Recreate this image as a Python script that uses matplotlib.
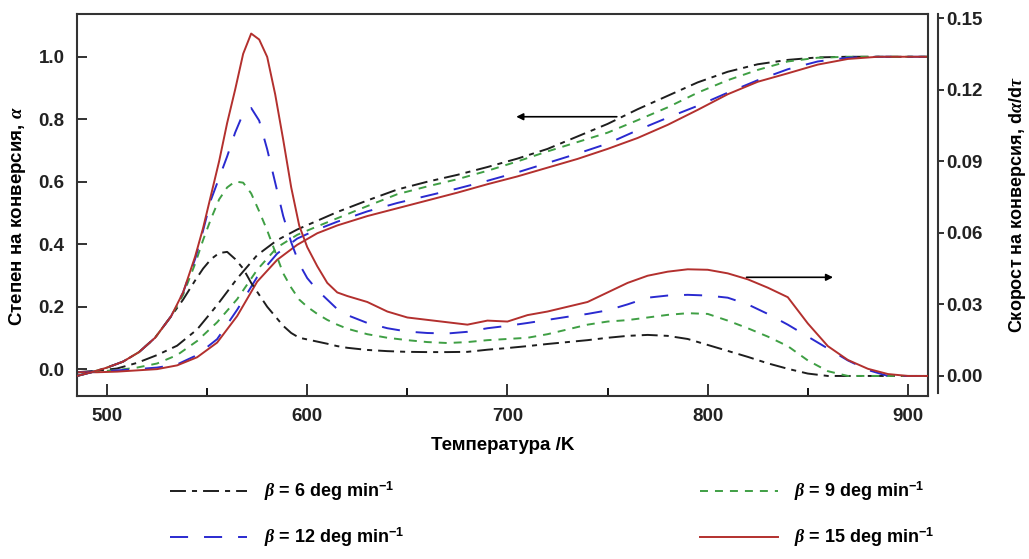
import matplotlib
matplotlib.use("Agg")
import matplotlib.pyplot as plt
from matplotlib.ticker import MultipleLocator, FormatStrFormatter

plt.rcParams['font.family'] = ['Liberation Sans', 'DejaVu Sans']
plt.rcParams['font.weight'] = 'bold'
plt.rcParams['axes.labelweight'] = 'bold'
plt.rcParams['mathtext.fontset'] = 'custom'
plt.rcParams['mathtext.rm'] = 'Liberation Sans:bold'
plt.rcParams['mathtext.bf'] = 'Liberation Sans:bold'
plt.rcParams['mathtext.it'] = 'Liberation Serif:italic'

# temperatura /K
T_conv = [485, 495, 505, 515, 525, 535, 545, 555, 565, 575, 585, 595, 605, 615, 630,
          645, 660, 675, 690, 705, 720, 735, 750, 765, 780, 795, 810, 825, 840, 855,
          870, 885, 900, 910]
T_rate = [485, 492, 500, 508, 516, 524, 532, 538, 544, 548, 552, 556, 560, 564, 568,
          572, 576, 580, 584, 588, 592, 596, 600, 605, 610, 615, 620, 630, 640, 650,
          660, 670, 680, 690, 700, 710, 720, 730, 740, 750, 760, 770, 780, 790, 800,
          810, 820, 830, 840, 850, 860, 870, 880, 890, 900, 910]

# stepen na konversia (alpha)
alpha_6 = [-0.01, -0.005, 0.002, 0.02, 0.045, 0.075, 0.127, 0.205, 0.29, 0.365, 0.413,
           0.447, 0.475, 0.503, 0.54, 0.575, 0.6, 0.622, 0.647, 0.674, 0.705, 0.745,
           0.785, 0.832, 0.875, 0.918, 0.952, 0.976, 0.99, 0.998, 1.0, 1.0, 1.0, 1.0]
alpha_9 = [-0.01, -0.008, -0.003, 0.005, 0.018, 0.045, 0.09, 0.15, 0.224, 0.318, 0.39,
           0.43, 0.457, 0.483, 0.522, 0.56, 0.585, 0.608, 0.635, 0.665, 0.697, 0.727,
           0.757, 0.797, 0.838, 0.885, 0.925, 0.958, 0.985, 0.997, 1.0, 1.0, 1.0, 1.0]
alpha_12 = [-0.01, -0.008, -0.004, 0.0, 0.005, 0.015, 0.045, 0.096, 0.19, 0.295, 0.37,
            0.418, 0.447, 0.472, 0.505, 0.532, 0.555, 0.578, 0.603, 0.63, 0.66, 0.69,
            0.722, 0.765, 0.805, 0.843, 0.885, 0.925, 0.96, 0.985, 0.997, 1.0, 1.0, 1.0]
alpha_15 = [-0.01, -0.01, -0.008, -0.004, 0.0, 0.012, 0.038, 0.085, 0.17, 0.28, 0.35,
            0.398, 0.435, 0.46, 0.49, 0.515, 0.54, 0.565, 0.592, 0.617, 0.645, 0.673,
            0.705, 0.74, 0.782, 0.83, 0.88, 0.92, 0.947, 0.975, 0.993, 1.0, 1.0, 1.0]

# skorost na konversia (dalpha/dtau)
rate_6 = [0.0, 0.0015, 0.0035, 0.006, 0.010, 0.016, 0.025, 0.032, 0.040, 0.045, 0.049,
          0.0515, 0.052, 0.049, 0.045, 0.039, 0.034, 0.029, 0.025, 0.021, 0.018, 0.016,
          0.0153, 0.0144, 0.0135, 0.0125, 0.0118, 0.0109, 0.0104, 0.0101, 0.010, 0.010,
          0.0101, 0.011, 0.0117, 0.0125, 0.0134, 0.0142, 0.015, 0.016, 0.0168, 0.0172,
          0.0168, 0.0155, 0.013, 0.0105, 0.008, 0.0053, 0.003, 0.001, 0.0, 0.0, 0.0,
          0.0, 0.0, 0.0]
rate_9 = [0.0, 0.0015, 0.0035, 0.006, 0.010, 0.016, 0.025, 0.034, 0.047, 0.057, 0.066,
          0.074, 0.079, 0.0815, 0.081, 0.0765, 0.069, 0.061, 0.052, 0.043, 0.037, 0.032,
          0.029, 0.026, 0.0235, 0.0215, 0.0198, 0.0175, 0.016, 0.015, 0.0142, 0.0138,
          0.0142, 0.015, 0.0155, 0.016, 0.0175, 0.0195, 0.0215, 0.0228, 0.0234, 0.0245,
          0.0256, 0.0263, 0.026, 0.0232, 0.020, 0.0165, 0.0125, 0.0065, 0.002, 0.0, 0.0,
          0.0, 0.0, 0.0]
rate_12 = [0.0, 0.0015, 0.0035, 0.006, 0.010, 0.016, 0.025, 0.035, 0.049, 0.061, 0.074,
           0.083, 0.092, 0.102, 0.110, 0.1123, 0.107, 0.095, 0.081, 0.067, 0.056, 0.047,
           0.041, 0.036, 0.032, 0.028, 0.0255, 0.0222, 0.020, 0.0186, 0.018, 0.0178,
           0.0185, 0.020, 0.021, 0.0222, 0.0235, 0.0248, 0.026, 0.0275, 0.030, 0.0328,
           0.0337, 0.034, 0.0337, 0.0328, 0.030, 0.026, 0.0215, 0.0165, 0.0115, 0.0065,
           0.0025, 0.0, 0.0, 0.0]
rate_15 = [0.0, 0.0015, 0.0035, 0.006, 0.010, 0.016, 0.025, 0.035, 0.050, 0.062, 0.076,
           0.090, 0.106, 0.120, 0.135, 0.1435, 0.141, 0.1337, 0.118, 0.099, 0.079, 0.063,
           0.054, 0.046, 0.039, 0.035, 0.0335, 0.031, 0.027, 0.0245, 0.0235, 0.0225,
           0.0215, 0.0232, 0.0228, 0.0255, 0.027, 0.029, 0.031, 0.035, 0.039, 0.042,
           0.0437, 0.0447, 0.0445, 0.043, 0.0405, 0.037, 0.033, 0.022, 0.0125, 0.0067,
           0.003, 0.0008, 0.0, 0.0]

labels = [r'$\mathit{\beta}$ = 6 deg min$^{-1}$',
          r'$\mathit{\beta}$ = 9 deg min$^{-1}$',
          r'$\mathit{\beta}$ = 12 deg min$^{-1}$',
          r'$\mathit{\beta}$ = 15 deg min$^{-1}$']
colors = ['#1e1e1e', '#3f9f44', '#2a2ad0', '#b3302e']
dashes = [(8.2, 3.1, 2.6, 3.1), (4.1, 3.6), (9.3, 8.2), None]

fig = plt.figure(figsize=(10.29, 5.59), dpi=100)
ax = fig.add_axes([0.0748, 0.2916, 0.827, 0.6834])
ax2 = ax.twinx()

handles = []
for a, r, lab, c, d in zip([alpha_6, alpha_9, alpha_12, alpha_15],
                           [rate_6, rate_9, rate_12, rate_15], labels, colors, dashes):
    kw = dict(color=c, lw=1.4)
    if d is not None:
        kw['dashes'] = d
    ln, = ax.plot(T_conv, a, label=lab, **kw)
    ax2.plot(T_rate, r, **kw)
    handles.append(ln)

ax.set_xlim(485, 910)
ax.set_ylim(-0.086, 1.137)
ax2.set_ylim(-0.0084, 0.1517)

ax.xaxis.set_major_locator(MultipleLocator(100))
ax.xaxis.set_minor_locator(MultipleLocator(50))
ax.yaxis.set_major_locator(MultipleLocator(0.2))
ax.yaxis.set_major_formatter(FormatStrFormatter('%.1f'))
ax2.yaxis.set_major_locator(MultipleLocator(0.03))
ax2.yaxis.set_major_formatter(FormatStrFormatter('%.2f'))

spine_c = '#333333'
for s in ax.spines.values():
    s.set_color(spine_c)
    s.set_linewidth(1.5)
for k in ['left', 'top', 'bottom']:
    ax2.spines[k].set_visible(False)
ax2.spines['right'].set_position(('outward', 7.2))
ax2.spines['right'].set_bounds(-0.0071, 0.1517)
ax2.spines['right'].set_color(spine_c)
ax2.spines['right'].set_linewidth(1.5)

ax.tick_params(axis='y', direction='in', length=7, width=1.3, pad=9,
               labelsize=13.5, colors='#222222')
ax.tick_params(axis='x', which='major', direction='in', length=9, width=1.3, pad=9,
               labelsize=13.5, colors='#222222')
ax.tick_params(axis='x', which='minor', direction='in', length=6, width=1.3)
ax2.tick_params(axis='y', direction='out', length=4, width=1.3, pad=2,
                labelsize=13.5, colors='#222222')

ax.set_xlabel('Температура /K', fontsize=13.5, labelpad=8)
ax.set_ylabel(r'Степен на конверсия, $\mathit{\alpha}$', fontsize=13.5)
ax.yaxis.set_label_coords(-0.058, 0.47)
ax2.set_ylabel(r'Скорост на конверсия, d$\mathit{\alpha}$/d$\mathit{\tau}$', fontsize=13)
ax2.yaxis.set_label_coords(1.093, 0.5)

# strelki
ax.annotate('', xy=(703, 0.808), xytext=(756, 0.808),
            arrowprops=dict(arrowstyle='-|>', color='black', lw=1.2, mutation_scale=10))
ax.annotate('', xy=(864, 0.294), xytext=(818, 0.294),
            arrowprops=dict(arrowstyle='-|>', color='black', lw=1.2, mutation_scale=10))

order = [0, 2, 1, 3]
fig.legend([handles[i] for i in order], [labels[i] for i in order],
           loc='center left', bbox_to_anchor=(0.165, 0.0796), ncol=2, frameon=False,
           fontsize=13, handlelength=4.3, handletextpad=0.9, labelspacing=1.25,
           columnspacing=16.4, borderpad=0, borderaxespad=0)

fig.savefig('out.png', dpi=100)
